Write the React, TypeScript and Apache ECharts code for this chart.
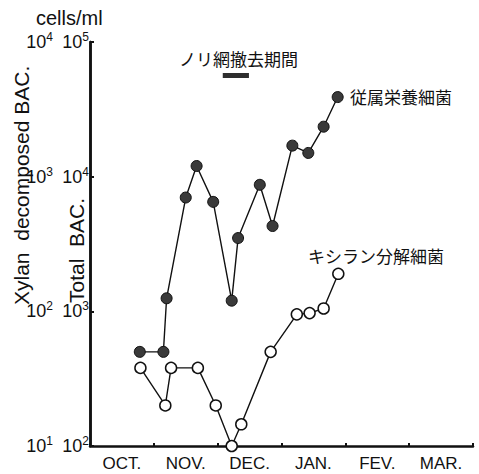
import React, { useEffect, useRef } from "react";
import * as echarts from "echarts";

// month position: 0 = start of October, 1 = start of November, ...
const monthLabels = ["OCT.", "NOV.", "DEC.", "JAN.", "FEV.", "MAR."];

// Total heterotrophic bacteria (cells/ml)
const totalX = [0.78, 1.15, 1.2, 1.5, 1.67, 1.93, 2.22, 2.32, 2.66, 2.86, 3.17, 3.42, 3.66, 3.88];
const totalY = [500, 500, 1250, 7000, 12000, 6500, 1200, 3500, 8700, 4300, 17000, 15000, 23500, 39000];

// Xylan decomposing bacteria (cells/ml)
const xylanX = [0.79, 1.18, 1.27, 1.69, 1.97, 2.22, 2.37, 2.83, 3.24, 3.44, 3.66, 3.89];
const xylanY = [38, 20, 38, 38, 20, 10, 14.5, 50, 95, 97, 105, 190];

// Nori net removal period
const periodX = [2.08, 2.49];
const periodLevel = 56400;

const FONT = "Liberation Sans";
const CJK = "Noto Sans CJK JP";

function powLabel(v: number) {
  const e = Math.round(Math.log10(v));
  return `{b|10}{s|${e}}`;
}

const richStyle = {
  b: { fontSize: 18, fontFamily: FONT, color: "#111" },
  s: { fontSize: 12, fontFamily: FONT, color: "#111", padding: [0, 0, 10, 0] },
};

export default function App() {
  const ref = useRef<HTMLDivElement>(null);
  useEffect(() => {
    document.body.style.margin = "0";
    const chart = echarts.init(ref.current!, null, { renderer: "svg" });
    const axisLine = { show: true, lineStyle: { color: "#111", width: 2.5 } };
    chart.setOption({
      animation: false,
      backgroundColor: "#fff",
      grid: { left: 90, right: 6, top: 42, bottom: 28, containLabel: false },
      xAxis: [
        {
          type: "value",
          min: 0,
          max: 6,
          interval: 1,
          position: "bottom",
          axisLine,
          axisTick: { show: true, inside: true, length: 3, lineStyle: { color: "#111", width: 2 } },
          axisLabel: { show: false },
          splitLine: { show: false },
        },
        {
          type: "category",
          data: monthLabels,
          position: "bottom",
          boundaryGap: true,
          axisLine: { show: false },
          axisTick: { show: false },
          axisLabel: { fontSize: 17, fontFamily: FONT, color: "#111", margin: 9 },
          splitLine: { show: false },
        },
      ],
      yAxis: [
        {
          type: "log",
          logBase: 10,
          min: 10,
          max: 10000,
          position: "left",
          offset: 36,
          axisLine,
          axisTick: { show: true, inside: true, length: 4, lineStyle: { color: "#111", width: 2 } },
          axisLabel: { formatter: powLabel, rich: richStyle, margin: 1 },
          splitLine: { show: false },
          minorTick: { show: false },
        },
        {
          type: "log",
          logBase: 10,
          min: 100,
          max: 100000,
          position: "left",
          offset: 0,
          axisLine,
          axisTick: { show: true, inside: true, length: 4, lineStyle: { color: "#111", width: 2 } },
          axisLabel: { formatter: powLabel, rich: richStyle, margin: 1 },
          splitLine: { show: false },
          minorTick: { show: false },
        },
      ],
      series: [
        {
          type: "line",
          xAxisIndex: 0,
          yAxisIndex: 1,
          data: periodX.map((x) => [x, periodLevel]),
          symbol: "none",
          lineStyle: { color: "#2e2e2e", width: 5, cap: "butt" },
          z: 3,
        },
        {
          type: "line",
          name: "従属栄養細菌",
          xAxisIndex: 0,
          yAxisIndex: 1,
          data: totalX.map((x, i) => [x, totalY[i]]),
          symbol: "circle",
          symbolSize: 11,
          lineStyle: { color: "#111", width: 1.4 },
          itemStyle: { color: "#3a3a3a", borderColor: "#111", borderWidth: 1 },
          z: 4,
        },
        {
          type: "line",
          name: "キシラン分解細菌",
          xAxisIndex: 0,
          yAxisIndex: 0,
          data: xylanX.map((x, i) => [x, xylanY[i]]),
          symbol: "circle",
          symbolSize: 11,
          showAllSymbol: true,
          lineStyle: { color: "#111", width: 1.4 },
          itemStyle: { color: "#fff", borderColor: "#111", borderWidth: 1.5 },
          z: 4,
        },
      ],
      graphic: [
        {
          type: "text",
          left: 36,
          top: 8,
          style: { text: "cells/ml", font: `20px '${FONT}'`, fill: "#111" },
        },
        {
          type: "text",
          x: 21,
          y: 305,
          rotation: Math.PI / 2,
          style: {
            text: "Xylan  decomposed BAC.",
            font: `21px '${FONT}'`,
            fill: "#111",
            textAlign: "left",
            textVerticalAlign: "middle",
          },
        },
        {
          type: "text",
          x: 76,
          y: 303,
          rotation: Math.PI / 2,
          style: {
            text: "Total  BAC.",
            font: `21px '${FONT}'`,
            fill: "#111",
            textAlign: "left",
            textVerticalAlign: "middle",
          },
        },
        {
          type: "text",
          x: 179,
          y: 58,
          style: { text: "ノリ網撤去期間", font: `17px '${CJK}'`, fill: "#111", textVerticalAlign: "middle" },
        },
        {
          type: "text",
          x: 350,
          y: 96,
          style: { text: "従属栄養細菌", font: `17px '${CJK}'`, fill: "#111", textVerticalAlign: "middle" },
        },
        {
          type: "text",
          x: 308,
          y: 255,
          style: { text: "キシラン分解細菌", font: `17px '${CJK}'`, fill: "#111", textVerticalAlign: "middle" },
        },
      ],
    });
    return () => chart.dispose();
  }, []);
  return <div ref={ref} style={{ width: 479, height: 474 }} />;
}
